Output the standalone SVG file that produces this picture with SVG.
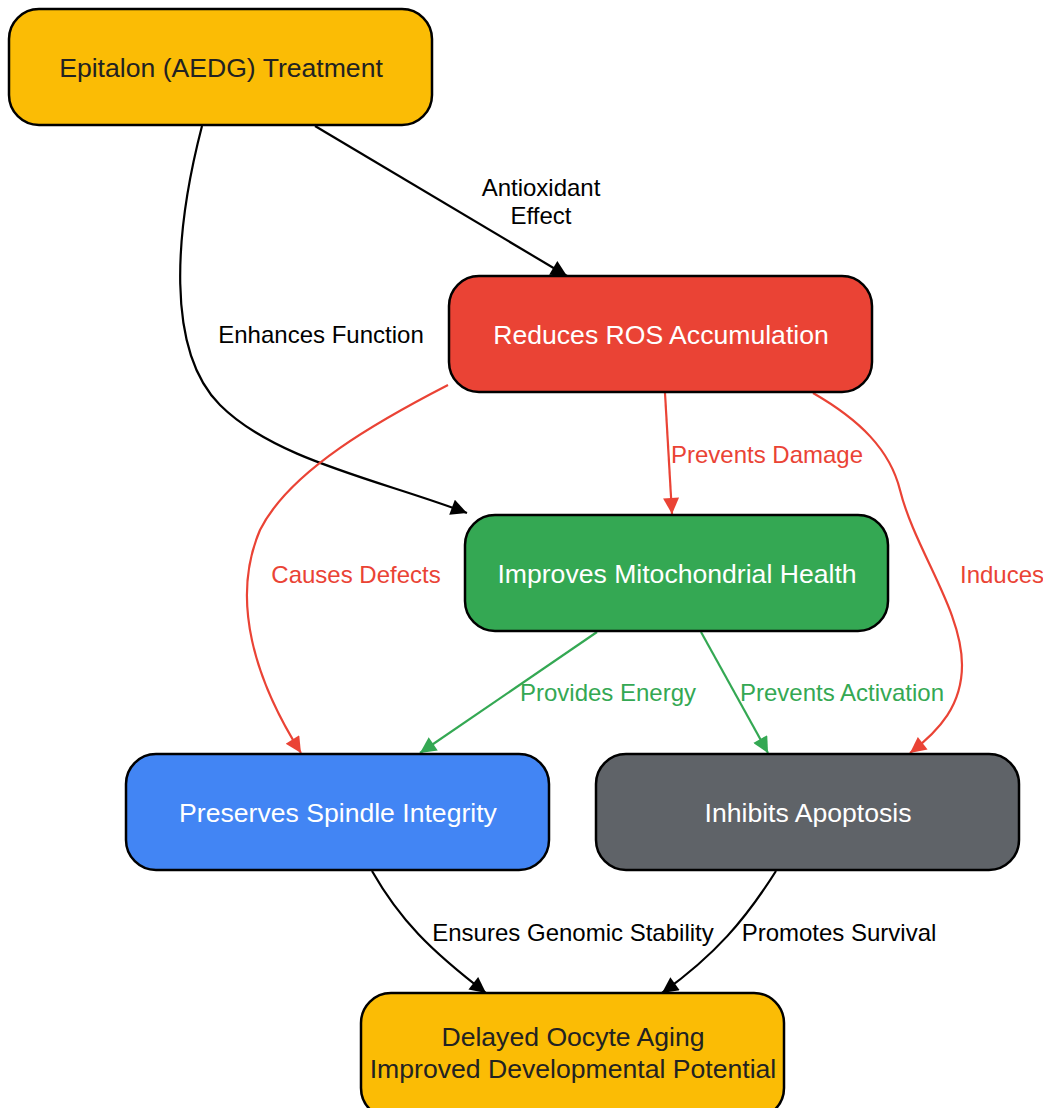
<svg xmlns="http://www.w3.org/2000/svg" width="1043" height="1108" viewBox="0 0 1043 1108">
<style>
.n rect{stroke:#000;stroke-width:2.5}
.n text{font-family:"Liberation Sans",Arial,sans-serif;font-size:26.6px;text-anchor:middle}
.e path{fill:none;stroke-width:2.2}
.l{font-family:"Liberation Sans",Arial,sans-serif;font-size:24px;text-anchor:middle}
</style>
<defs>
<marker id="ak" viewBox="0 0 10 10" refX="10" refY="5" markerWidth="20" markerHeight="16" markerUnits="userSpaceOnUse" orient="auto"><path d="M0,0L10,5L0,10z" fill="#000"/></marker>
<marker id="ar" viewBox="0 0 10 10" refX="10" refY="5" markerWidth="20" markerHeight="16" markerUnits="userSpaceOnUse" orient="auto"><path d="M0,0L10,5L0,10z" fill="#EA4335"/></marker>
<marker id="ag" viewBox="0 0 10 10" refX="10" refY="5" markerWidth="20" markerHeight="16" markerUnits="userSpaceOnUse" orient="auto"><path d="M0,0L10,5L0,10z" fill="#34A853"/></marker>
</defs>
<rect width="1043" height="1108" fill="#fff"/>
<g id="connectors">
<g class="e">
<path d="M315,126 L567,276" stroke="#000" marker-end="url(#ak)"/>
<path d="M202,126 C175,230 165,350 220,405 C275,460 380,480 467,513" stroke="#000" marker-end="url(#ak)"/>
<path d="M665,393 L672,514" stroke="#EA4335" marker-end="url(#ar)"/>
<path d="M448,385 C380,420 290,470 260,530 C230,600 255,680 301,753" stroke="#EA4335" marker-end="url(#ar)"/>
<path d="M813,393 C860,420 890,450 900,490 C915,550 962,610 962,665 C962,705 940,730 910,753" stroke="#EA4335" marker-end="url(#ar)"/>
<path d="M597,632 L420,753" stroke="#34A853" marker-end="url(#ag)"/>
<path d="M701,632 L768,753" stroke="#34A853" marker-end="url(#ag)"/>
<path d="M372,871 C400,920 430,950 486,993" stroke="#000" marker-end="url(#ak)"/>
<path d="M776,871 C745,920 715,955 662,993" stroke="#000" marker-end="url(#ak)"/>
</g>
<text class="l" x="541" y="196" fill="#000">Antioxidant</text>
<text class="l" x="541" y="224" fill="#000">Effect</text>
<text class="l" x="321" y="343" fill="#000">Enhances Function</text>
<text class="l" x="767" y="463" fill="#EA4335">Prevents Damage</text>
<text class="l" x="356" y="583" fill="#EA4335">Causes Defects</text>
<text class="l" x="1002" y="583" fill="#EA4335">Induces</text>
<text class="l" x="608" y="701" fill="#34A853">Provides Energy</text>
<text class="l" x="842" y="701" fill="#34A853">Prevents Activation</text>
<text class="l" x="573" y="941" fill="#000">Ensures Genomic Stability</text>
<text class="l" x="839" y="941" fill="#000">Promotes Survival</text>
</g>
<g id="epitalon" class="n"><rect x="9" y="9" width="423" height="116" rx="30" fill="#FBBC05"/><text x="221" y="77" fill="#222">Epitalon (AEDG) Treatment</text></g>
<g id="ros" class="n"><rect x="449" y="276" width="423" height="116" rx="30" fill="#EA4335"/><text x="661" y="344" fill="#fff">Reduces ROS Accumulation</text></g>
<g id="mito" class="n"><rect x="465" y="515" width="423" height="116" rx="30" fill="#34A853"/><text x="677" y="583" fill="#fff">Improves Mitochondrial Health</text></g>
<g id="spindle" class="n"><rect x="126" y="754" width="423" height="116" rx="30" fill="#4285F4"/><text x="338" y="822" fill="#fff">Preserves Spindle Integrity</text></g>
<g id="apoptosis" class="n"><rect x="596" y="754" width="423" height="116" rx="30" fill="#5F6368"/><text x="808" y="822" fill="#fff">Inhibits Apoptosis</text></g>
<g id="outcome" class="n"><rect x="361" y="993" width="423" height="125" rx="30" fill="#FBBC05"/><text x="573" y="1046" fill="#222">Delayed Oocyte Aging</text><text x="573" y="1078" fill="#222">Improved Developmental Potential</text></g>
</svg>
